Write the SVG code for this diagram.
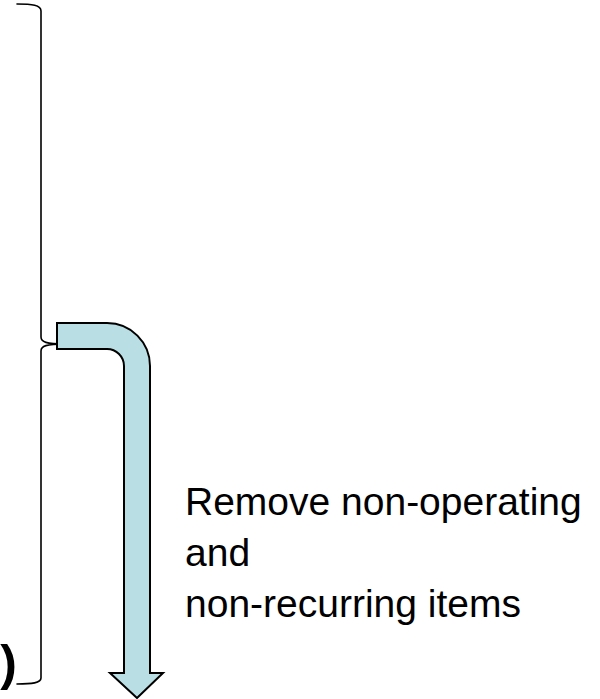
<svg xmlns="http://www.w3.org/2000/svg" width="600" height="699" viewBox="0 0 600 699">
  <style>
    .brace { fill: none; stroke: #000; stroke-width: 1.6; stroke-linecap: round; stroke-linejoin: round; }
    .arrow { fill: #B9DFE4; stroke: #000; stroke-width: 2; stroke-linejoin: miter; }
    .lbl { font-family: "Liberation Sans", Arial, sans-serif; font-size: 39px; fill: #000; }
    .paren { font-family: "Liberation Sans", Arial, sans-serif; font-size: 50px; font-weight: bold; fill: #000; }
  </style>
  <rect width="600" height="699" fill="#fff"/>
  <g id="brace">
    <path class="brace" d="M17,4 C32,4 41,5 41,11 L41,337 C41,342 46,344 65,344 C46,344 41,346 41,351 L41,678 C41,683 32,684 17,684"/>
  </g>
  <g id="paren">
    <text class="paren" x="17" y="680" text-anchor="end">)</text>
  </g>
  <g id="connectors">
    <path class="arrow" d="M57,323 L107,323 A43,43 0 0 1 150,366 L150,673 L163,673 L137,698 L110,673 L124,673 L124,366 A17,17 0 0 0 107,349 L57,349 Z"/>
  </g>
  <g id="label">
    <text class="lbl" x="185" y="515">Remove non-operating</text>
    <text class="lbl" x="185" y="566">and</text>
    <text class="lbl" x="185" y="617">non-recurring items</text>
  </g>
</svg>
